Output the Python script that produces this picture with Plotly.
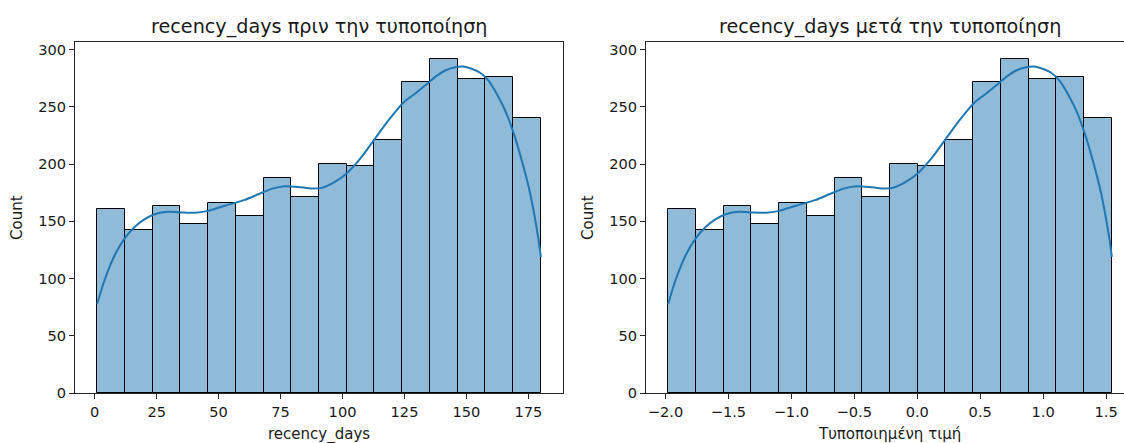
import plotly.graph_objects as go

# Histogram of recency_days (16 equal-width bins between min and max)
recency_min = 1
recency_max = 180
bin_counts = [161, 142, 163, 148, 166, 155, 188, 171, 200, 198, 221, 272, 292, 274, 276, 240]

# Kernel density estimate, scaled to counts
kde_days = [1, 4.0, 8.1, 12.1, 16.2, 20.2, 24.2, 29.6, 35.0, 40.4, 45.8, 52.5, 60.6, 66.0,
            71.4, 76.7, 82.1, 87.5, 91.6, 96.9, 102.3, 107.7, 113.1, 118.5, 124.5, 129.2,
            133.3, 137.3, 141.4, 145.4, 148.7, 152.1, 155.5, 158.8, 162.2, 165.6, 168.9,
            172.3, 175.7, 179.0, 180]
kde_counts = [78, 98.7, 120.5, 135.0, 145.2, 151.9, 156.2, 158.3, 157.7, 157.4, 159.1, 163.5,
              168.7, 173.6, 178.3, 180.6, 180.0, 178.6, 179.2, 184.4, 193.1, 206.2, 222.2,
              238.1, 253.6, 261.4, 268.6, 275.9, 281.7, 284.6, 285.2, 283.2, 279.7, 273.0,
              261.4, 246.8, 227.9, 203.3, 174.3, 135.0, 119.0]

# Standardisation parameters (z = (x - mean) / std)
recency_mean = 101.5
recency_std = 50.8

left_ticks = [0, 25, 50, 75, 100, 125, 150, 175]
left_ticklabels = ["0", "25", "50", "75", "100", "125", "150", "175"]
right_ticks = [-2.0, -1.5, -1.0, -0.5, 0.0, 0.5, 1.0, 1.5]
right_ticklabels = ["\u22122.0", "\u22121.5", "\u22121.0", "\u22120.5", "0.0", "0.5", "1.0", "1.5"]
count_ticks = [0, 50, 100, 150, 200, 250, 300]

titles = ["recency_days πριν την τυποποίηση", "recency_days μετά την τυποποίηση"]
xlabels = ["recency_days", "Τυποποιημένη τιμή"]
ylabel = "Count"

W, H = 1124, 443
MT, MB = 42, 50
FONT = "DejaVu Sans"
BAR_FILL = "rgba(31,119,180,0.5)"
LINE_BLUE = "#1f77b4"
SPINE = "#262626"
TEXT = "#1a1a1a"

n_bins = len(bin_counts)
bin_w = (recency_max - recency_min) / n_bins
edges = [recency_min + i * bin_w for i in range(n_bins + 1)]
centers = [(edges[i] + edges[i + 1]) / 2 for i in range(n_bins)]

def standardise(v):
    return (v - recency_mean) / recency_std

z_edges = [standardise(e) for e in edges]
z_centers = [(z_edges[i] + z_edges[i + 1]) / 2 for i in range(n_bins)]
z_w = bin_w / recency_std
z_kde = [standardise(d) for d in kde_days]

fig = go.Figure()

bar_style = dict(marker=dict(color=BAR_FILL, line=dict(color="black", width=1)),
                 showlegend=False, hoverinfo="skip")
line_style = dict(mode="lines", line=dict(color=LINE_BLUE, width=2, shape="spline", smoothing=0.6),
                  showlegend=False, hoverinfo="skip")

fig.add_trace(go.Bar(x=centers, y=bin_counts, width=[bin_w] * n_bins,
                     xaxis="x", yaxis="y", **bar_style))
fig.add_trace(go.Scatter(x=kde_days, y=kde_counts, xaxis="x", yaxis="y", **line_style))
fig.add_trace(go.Bar(x=z_centers, y=bin_counts, width=[z_w] * n_bins,
                     xaxis="x2", yaxis="y2", **bar_style))
fig.add_trace(go.Scatter(x=z_kde, y=kde_counts, xaxis="x2", yaxis="y2", **line_style))

# Axis ranges: data span padded by 5 % on each side
pad = 0.05 * (recency_max - recency_min)
left_range = [recency_min - pad, recency_max + pad]
z_pad = 0.05 * (z_edges[-1] - z_edges[0])
left_px = (75, 563)
right_px = (646, W)
right_full_px = right_px[0] + (left_px[1] - left_px[0])
z_full = [z_edges[0] - z_pad, z_edges[-1] + z_pad]
z_per_px = (z_full[1] - z_full[0]) / (right_full_px - right_px[0])
right_range = [z_full[0], z_full[0] + (right_px[1] - right_px[0]) * z_per_px]
y_range = [0, max(bin_counts) * 1.05]

tick_font = dict(family=FONT, size=14.6, color=TEXT)
common_x = dict(showline=True, linecolor=SPINE, linewidth=1, mirror=True, ticks="outside",
                ticklen=5, tickwidth=1, tickcolor=SPINE, showgrid=False, zeroline=False,
                tickfont=tick_font, automargin=False)
common_y = dict(showline=True, linecolor=SPINE, linewidth=1, ticks="outside", ticklen=5,
                tickwidth=1, tickcolor=SPINE, showgrid=False, zeroline=False,
                tickfont=tick_font, automargin=False, range=y_range,
                tickvals=count_ticks, ticktext=[str(v) for v in count_ticks])

fig.update_layout(
    width=W, height=H,
    margin=dict(l=0, r=0, t=MT, b=MB),
    paper_bgcolor="white", plot_bgcolor="white",
    bargap=0,
    font=dict(family=FONT, color=TEXT),
    xaxis=dict(domain=[left_px[0] / W, left_px[1] / W], range=left_range,
               tickvals=left_ticks, ticktext=left_ticklabels, **common_x),
    yaxis=dict(anchor="x", mirror=True, **common_y),
    xaxis2=dict(domain=[right_px[0] / W, 1.0], range=right_range, anchor="y2",
                tickvals=right_ticks, ticktext=right_ticklabels, **common_x),
    yaxis2=dict(anchor="x2", mirror=False, **common_y),
)

plot_h = H - MT - MB

def py(px):
    return (H - MB - px) / plot_h

left_mid = (left_px[0] + left_px[1]) / 2 / W
right_mid = (right_px[0] + right_full_px) / 2 / W

annotations = []
for xm, t in zip([left_mid, right_mid], titles):
    annotations.append(dict(text=t, x=xm, y=py(26), xref="paper", yref="paper",
                            xanchor="center", yanchor="middle", showarrow=False,
                            font=dict(family=FONT, size=19.2, color=TEXT)))
for xm, t in zip([left_mid, right_mid], xlabels):
    annotations.append(dict(text=t, x=xm, y=py(434), xref="paper", yref="paper",
                            xanchor="center", yanchor="middle", showarrow=False,
                            font=dict(family=FONT, size=15, color=TEXT)))
for xp in [16.5, 587.5]:
    annotations.append(dict(text=ylabel, x=xp / W, y=py(217.5), xref="paper", yref="paper",
                            xanchor="center", yanchor="middle", textangle=-90, showarrow=False,
                            font=dict(family=FONT, size=15, color=TEXT)))
fig.update_layout(annotations=annotations)

fig.write_html("out.html", config={"displayModeBar": False})
